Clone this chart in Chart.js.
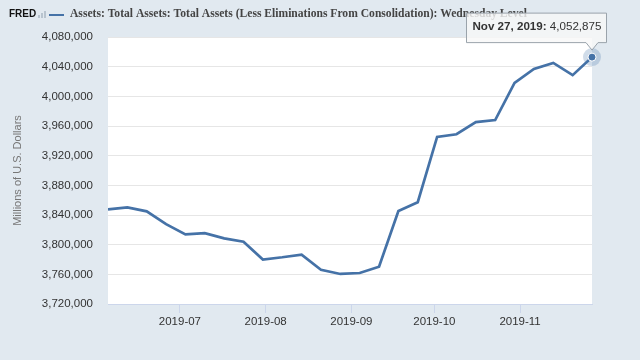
<!DOCTYPE html>
<html>
<head>
<meta charset="utf-8">
<script src="https://cdn.jsdelivr.net/npm/chart.js@4/dist/chart.umd.min.js"></script>
<style>
  html, body { margin: 0; padding: 0; background: #e1e9f0; }
  #wrap { width: 640px; height: 360px; }
</style>
</head>
<body>
<div id="wrap"><canvas id="c" width="640" height="360"></canvas></div>
<script>
// ---- Data ----
const titleText = 'Assets: Total Assets: Total Assets (Less Eliminations From Consolidation): Wednesday Level';
const yAxisTitle = 'Millions of U.S. Dollars';
const dates = [
  '2019-06-05','2019-06-12','2019-06-19','2019-06-26',
  '2019-07-03','2019-07-10','2019-07-17','2019-07-24','2019-07-31',
  '2019-08-07','2019-08-14','2019-08-21','2019-08-28',
  '2019-09-04','2019-09-11','2019-09-18','2019-09-25',
  '2019-10-02','2019-10-09','2019-10-16','2019-10-23','2019-10-30',
  '2019-11-06','2019-11-13','2019-11-20','2019-11-27'
];
const values = [
  3847600, 3850300, 3844900, 3827600,
  3813900, 3815600, 3808500, 3804000, 3780000,
  3783000, 3786600, 3766200, 3760500,
  3761800, 3770300, 3845300, 3857300,
  3945300, 3948900, 3965300, 3968000, 4018000,
  4037000, 4045000, 4028600, 4052875
];
const xTickLabels = ['2019-07','2019-08','2019-09','2019-10','2019-11'];
const yMin = 3720000, yMax = 4080000, yStep = 40000;
const tooltipDateLabel = 'Nov 27, 2019:';

// ---- Build ----
const DAY = 86400000;
const t0 = Date.parse(dates[0]);
const toDay = d => (Date.parse(d) - t0) / DAY;
const points = dates.map((d, i) => ({ x: toDay(d), y: values[i] }));
const tickPos = xTickLabels.map(l => toDay(l + '-01'));
const fmt = v => Math.round(v).toLocaleString('en-US');

const LINE = '#4572a7';
const SANS = '"Liberation Sans", Arial, sans-serif';
const SERIF = '"Liberation Serif", "Times New Roman", serif';

const bgPlugin = {
  id: 'bg',
  beforeDraw(chart) {
    const { ctx, chartArea: a } = chart;
    ctx.save();
    ctx.fillStyle = '#e1e9f0';
    ctx.fillRect(0, 0, chart.width, chart.height);
    ctx.fillStyle = '#ffffff';
    ctx.fillRect(a.left, a.top, a.right - a.left, a.bottom - a.top);
    // header
    ctx.textBaseline = 'middle';
    ctx.fillStyle = '#111';
    ctx.font = 'bold 10px ' + SANS;
    ctx.fillText('FRED', 9, 14);
    // small icon
    ctx.fillStyle = '#b8c4cf';
    ctx.fillRect(38, 15, 2, 3);
    ctx.fillRect(41, 13, 2, 5);
    ctx.fillRect(44, 11, 2, 7);
    // legend line
    ctx.strokeStyle = LINE;
    ctx.lineWidth = 2;
    ctx.beginPath();
    ctx.moveTo(49, 15);
    ctx.lineTo(64, 15);
    ctx.stroke();
    ctx.fillStyle = '#444';
    ctx.font = 'bold 11.6px ' + SERIF;
    ctx.fillText(titleText, 70, 14);
    ctx.restore();
  }
};

const tipPlugin = {
  id: 'tip',
  afterDraw(chart) {
    const { ctx } = chart;
    const meta = chart.getDatasetMeta(0);
    const el = meta.data[meta.data.length - 1];
    const px = el.x, py = el.y;
    ctx.save();
    // halo
    ctx.fillStyle = 'rgba(69,114,167,0.25)';
    ctx.beginPath(); ctx.arc(px, py, 9, 0, Math.PI * 2); ctx.fill();
    // point
    ctx.fillStyle = LINE;
    ctx.strokeStyle = '#ffffff';
    ctx.lineWidth = 1;
    ctx.beginPath(); ctx.arc(px, py, 4, 0, Math.PI * 2); ctx.fill(); ctx.stroke();
    // callout box
    const L = px - 125.5, R = px + 14.5, T = py - 44, B = py - 14.5;
    ctx.beginPath();
    ctx.moveTo(L, T);
    ctx.lineTo(R, T);
    ctx.lineTo(R, B);
    ctx.lineTo(px + 6, B);
    ctx.lineTo(px, py - 7);
    ctx.lineTo(px - 6, B);
    ctx.lineTo(L, B);
    ctx.closePath();
    ctx.fillStyle = 'rgba(247,247,247,0.8)';
    ctx.fill();
    ctx.strokeStyle = '#9aa3ab';
    ctx.lineWidth = 1;
    ctx.stroke();
    // text
    ctx.textBaseline = 'middle';
    ctx.fillStyle = '#333';
    ctx.font = 'bold 11.6px ' + SANS;
    const tx = L + 6, ty = T + 14;
    ctx.fillText(tooltipDateLabel, tx, ty);
    const w = ctx.measureText(tooltipDateLabel).width;
    ctx.font = '11.6px ' + SANS;
    ctx.fillText(' ' + fmt(values[values.length - 1]), tx + w, ty);
    ctx.restore();
  }
};

new Chart(document.getElementById('c'), {
  type: 'line',
  data: {
    datasets: [{
      data: points,
      borderColor: LINE,
      borderWidth: 2.7,
      pointRadius: 0,
      tension: 0,
      fill: false
    }]
  },
  options: {
    responsive: false,
    animation: false,
    devicePixelRatio: 1,
    layout: { padding: { left: 0, top: 37, right: 48, bottom: 0 } },
    plugins: { legend: { display: false }, tooltip: { enabled: false } },
    scales: {
      x: {
        type: 'linear',
        min: 0,
        max: points[points.length - 1].x,
        afterBuildTicks: s => { s.ticks = tickPos.map(v => ({ value: v })); },
        afterFit: s => { s.height = 56; },
        ticks: {
          callback: (v, i) => xTickLabels[i],
          font: { family: SANS, size: 11.5 },
          color: '#333',
          padding: 2,
          maxRotation: 0,
          autoSkip: false
        },
        grid: { drawOnChartArea: false, drawTicks: true, tickLength: 9, color: '#ccd6eb' },
        border: { color: '#ccd6eb' }
      },
      y: {
        min: yMin,
        max: yMax,
        afterFit: s => { s.width = 108; },
        ticks: {
          stepSize: yStep,
          callback: v => fmt(v),
          font: { family: SANS, size: 11.5 },
          color: '#333',
          padding: 15
        },
        grid: { color: '#e6e6e6', drawTicks: false },
        border: { display: false },
        title: {
          display: true,
          text: yAxisTitle,
          color: '#777',
          font: { family: SANS, size: 11 },
          padding: { top: 11, bottom: 0 }
        }
      }
    }
  },
  plugins: [bgPlugin, tipPlugin]
});
</script>
</body>
</html>
